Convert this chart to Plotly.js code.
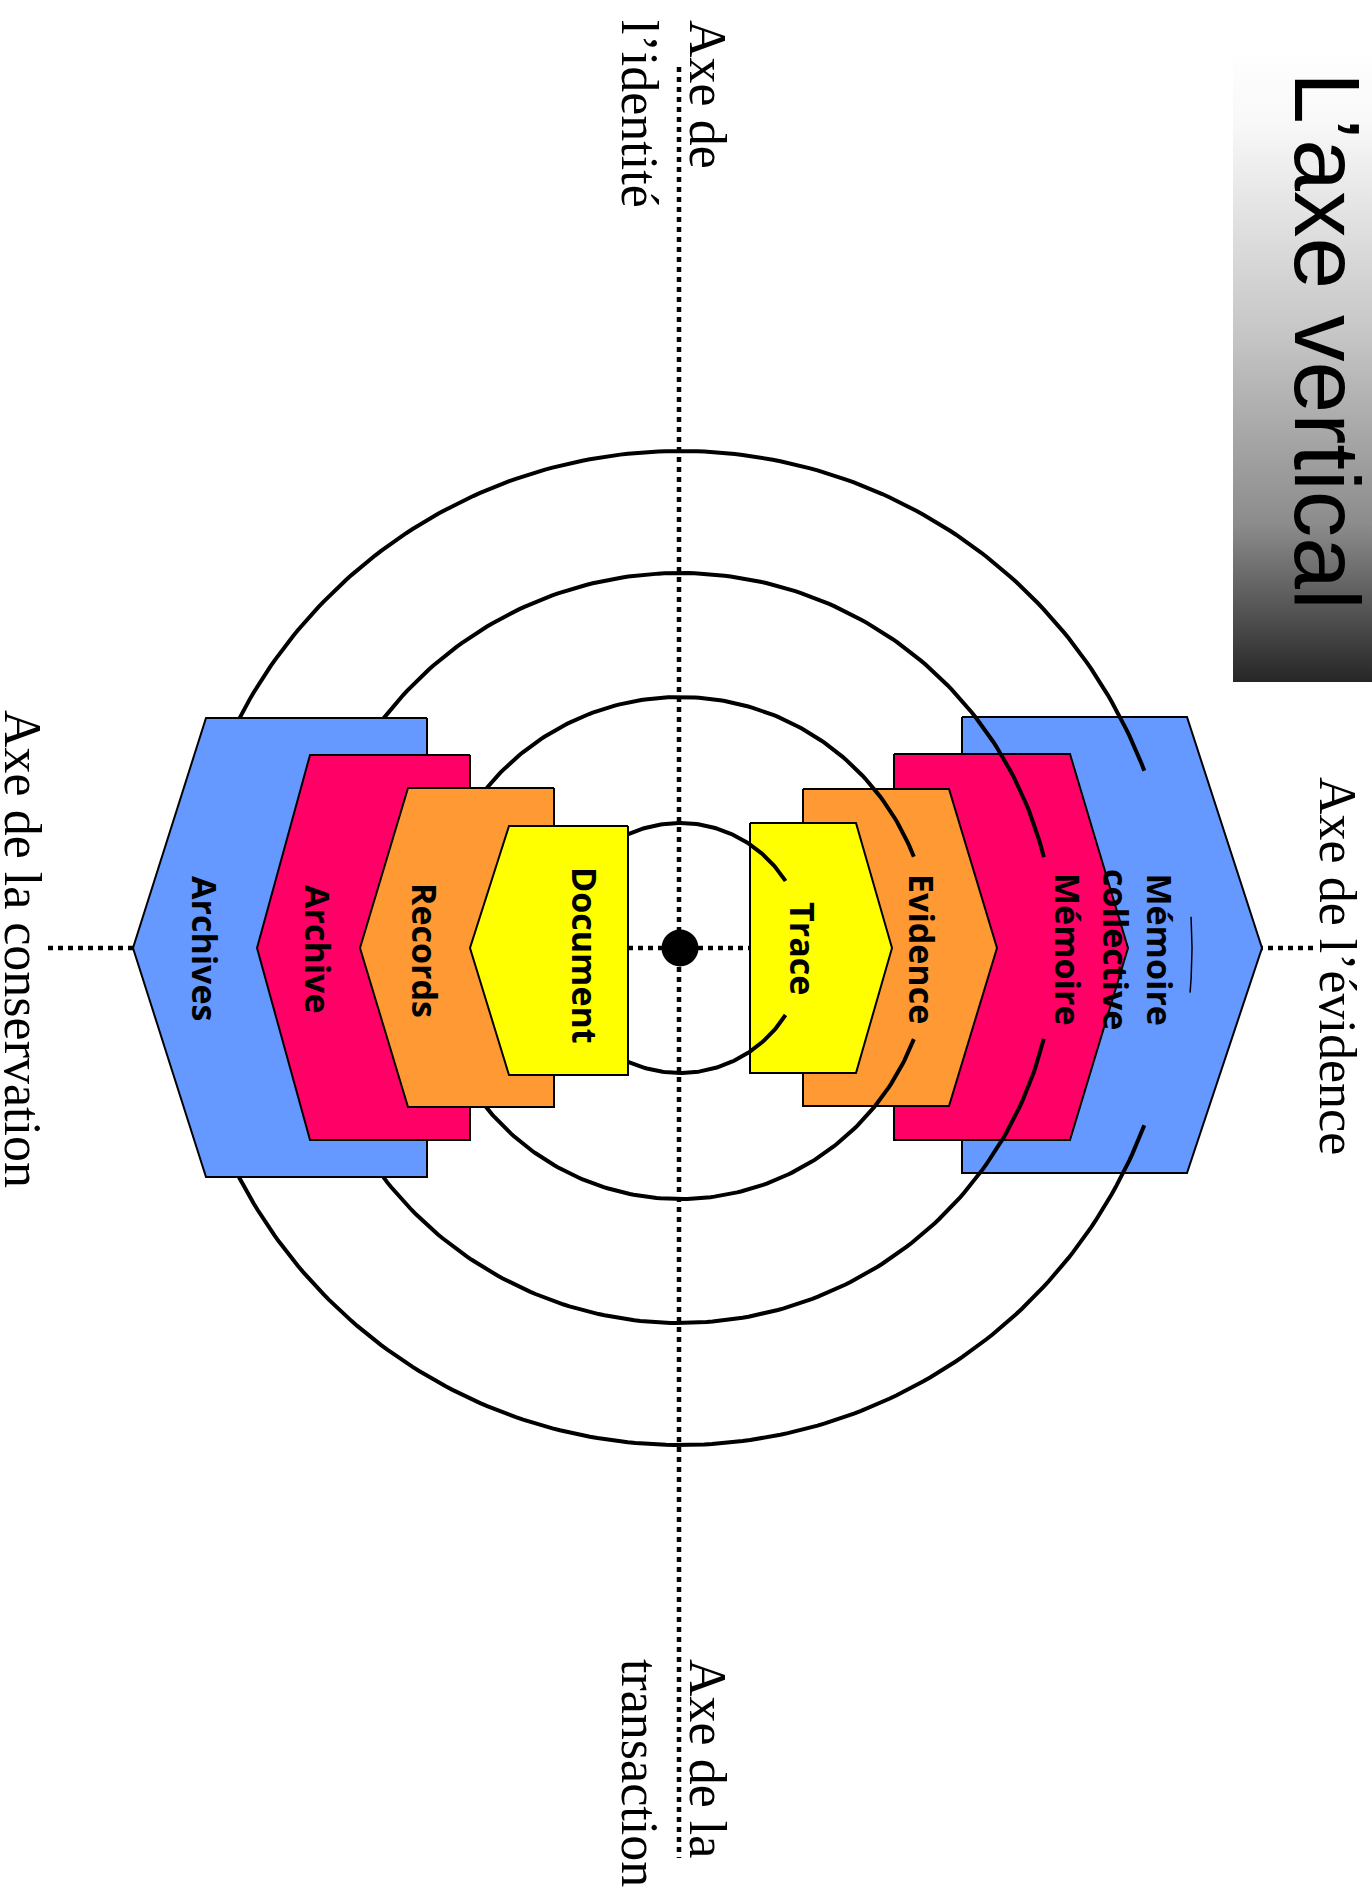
<!DOCTYPE html>
<html>
<head>
<meta charset="utf-8">
<script src="https://cdn.plot.ly/plotly-3.0.1.min.js"></script>
<style>html,body{margin:0;padding:0;background:#fff;}#chart{width:1372px;height:1895px;}</style>
</head>
<body>
<div id="chart"></div>
<script>
// ---------- data ----------
const centre = [680, 948];
const ringRadii = [125, 251, 375, 497];
const ringGapDeg = [32.4, 21.3, 14.0, 20.9];   // opening of each ring on the right side

const leftLabels  = ['Archives', 'Archive', 'Records', 'Document'];
const leftFlat    = [427, 470, 554, 628];
const leftCorner  = [206, 310, 408, 509];
const leftTip     = [133, 257, 360, 470];
const leftTop     = [718, 755, 788, 826];
const leftBottom  = [1177, 1140, 1107, 1075];

const rightLabels = ['Mémoire<br>collective', 'Mémoire', 'Evidence', 'Trace'];
const rightFlat   = [962, 894, 803, 750];
const rightCorner = [1187, 1070, 949, 856];
const rightTip    = [1262, 1128, 997, 892];
const rightTop    = [717, 754, 789, 823];
const rightBottom = [1173, 1140, 1106, 1073];

const layerColors = ['#6699FF', '#FF0066', '#FF9933', '#FFFF00'];

const axisLabels = ['Axe de<br>l’identité', 'Axe de la<br>transaction', 'Axe de la conservation', 'Axe de l’évidence'];
const titleText = 'L’axe vertical';

// ---------- layout helpers (positions / styles) ----------
const leftLabelPos  = [[205, 948], [318, 949], [425, 950], [585, 955]];
const rightLabelPos = [[1138, 949], [1068, 949], [922, 949], [803, 948]];
const axisLabelPos  = [[674, 114], [674, 1773], [23, 949], [1338, 966]];
const axisLabelAlign = ['left', 'left', 'center', 'center'];

const traces = [];

// title box with gradient
traces.push({
  x: [1233, 1372, 1372, 1233, 1233], y: [48, 48, 682, 682, 48],
  mode: 'lines', line: {width: 0, color: 'rgba(0,0,0,0)'}, fill: 'toself',
  fillgradient: {type: 'vertical', start: 48, stop: 682,
    colorscale: [[0, '#ffffff'], [0.12, '#f8f8f8'], [0.45, '#c6c6c6'], [0.75, '#8c8c8c'], [1, '#262626']]},
  hoverinfo: 'skip'
});

// dotted axes
const dotLine = {color: '#000', width: 4.5, dash: '5px,5px'};
traces.push({x: [679, 679], y: [67, 1858], mode: 'lines', line: dotLine, hoverinfo: 'skip'});
traces.push({x: [48, 1315], y: [948, 948], mode: 'lines', line: dotLine, hoverinfo: 'skip'});

function polyTrace(xs, ys, color) {
  return {x: xs, y: ys, mode: 'lines', fill: 'toself', fillcolor: color,
          line: {color: '#000', width: 2}, hoverinfo: 'skip'};
}

// right-side layers (under the rings)
for (let i = 0; i < rightLabels.length; i++) {
  const cy = centre[1];
  traces.push(polyTrace(
    [rightFlat[i], rightCorner[i], rightTip[i], rightCorner[i], rightFlat[i], rightFlat[i]],
    [rightTop[i], rightTop[i], cy, rightBottom[i], rightBottom[i], rightTop[i]],
    layerColors[i]));
}

// rings, open on the right
for (let k = 0; k < ringRadii.length; k++) {
  const r = ringRadii[k], g = ringGapDeg[k] * Math.PI / 180;
  const xs = [], ys = [];
  const n = 360;
  for (let j = 0; j <= n; j++) {
    const t = g + (2 * Math.PI - 2 * g) * j / n;
    xs.push(centre[0] + r * Math.cos(t));
    ys.push(centre[1] + r * Math.sin(t));
  }
  traces.push({x: xs, y: ys, mode: 'lines', line: {color: '#000', width: 4}, hoverinfo: 'skip'});
}

// small thin stroke inside the outer layer
(function () {
  const xs = [], ys = [];
  for (let j = 0; j <= 30; j++) {
    const t = (-3.5 + 8.5 * j / 30) * Math.PI / 180;
    xs.push(centre[0] + 512 * Math.cos(t));
    ys.push(centre[1] + 512 * Math.sin(t));
  }
  traces.push({x: xs, y: ys, mode: 'lines', line: {color: '#000', width: 1.5}, hoverinfo: 'skip'});
})();

// left-side layers (over the rings)
for (let i = 0; i < leftLabels.length; i++) {
  const cy = centre[1];
  traces.push(polyTrace(
    [leftFlat[i], leftCorner[i], leftTip[i], leftCorner[i], leftFlat[i], leftFlat[i]],
    [leftTop[i], leftTop[i], cy, leftBottom[i], leftBottom[i], leftTop[i]],
    layerColors[i]));
}

// centre dot
traces.push({x: [centre[0]], y: [centre[1]], mode: 'markers',
  marker: {size: 37, color: '#000'}, hoverinfo: 'skip'});

// ---------- annotations ----------
const annotations = [];
const labelFont = {family: '"Open Sans", "Noto Sans", sans-serif', size: 34, color: '#000', weight: 700};
leftLabels.forEach((t, i) => annotations.push({
  x: leftLabelPos[i][0], y: leftLabelPos[i][1], xref: 'x', yref: 'y', text: t, showarrow: false,
  textangle: 90, font: labelFont, xanchor: 'center', yanchor: 'middle'}));
rightLabels.forEach((t, i) => annotations.push({
  x: rightLabelPos[i][0], y: rightLabelPos[i][1], xref: 'x', yref: 'y', text: t, showarrow: false,
  textangle: 90, font: labelFont, xanchor: 'center', yanchor: 'middle', align: 'center'}));

const serifFont = {family: '"Liberation Serif", "DejaVu Serif", serif', size: 52, color: '#000'};
axisLabels.forEach((t, i) => annotations.push({
  x: axisLabelPos[i][0], y: axisLabelPos[i][1], xref: 'x', yref: 'y', text: t, showarrow: false,
  textangle: 90, font: serifFont, xanchor: 'center', yanchor: 'middle', align: axisLabelAlign[i]}));

annotations.push({x: 1327, y: 341, xref: 'x', yref: 'y', text: titleText, showarrow: false,
  textangle: 90, font: {family: '"Liberation Sans", Arial, sans-serif', size: 93, color: '#000'},
  xanchor: 'center', yanchor: 'middle'});

const layout = {
  width: 1372, height: 1895,
  margin: {l: 0, r: 0, t: 0, b: 0, pad: 0},
  paper_bgcolor: '#ffffff', plot_bgcolor: '#ffffff',
  showlegend: false,
  xaxis: {range: [0, 1372], visible: false, fixedrange: true},
  yaxis: {range: [1895, 0], visible: false, fixedrange: true},
  annotations: annotations,
  hovermode: false
};

Plotly.newPlot('chart', traces, layout, {displayModeBar: false, staticPlot: true});
</script>
</body>
</html>
